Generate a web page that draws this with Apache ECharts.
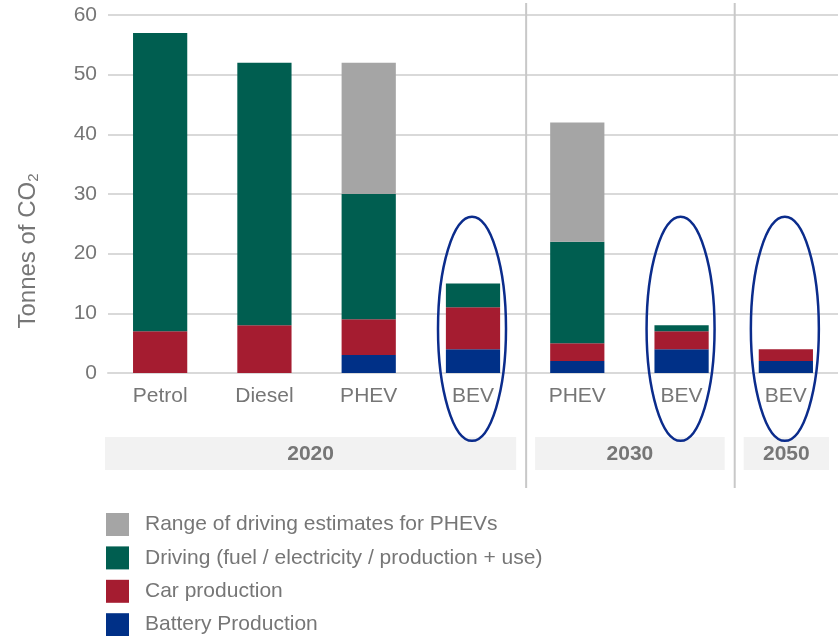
<!DOCTYPE html>
<html>
<head>
<meta charset="utf-8">
<script src="https://cdn.jsdelivr.net/npm/echarts@6/dist/echarts.min.js"></script>
<style>html,body{margin:0;padding:0;background:#fff}#c{width:838px;height:636px}</style>
</head>
<body>
<div id="c"></div>
<script>
var categories = ['Petrol', 'Diesel', 'PHEV', 'BEV', 'PHEV', 'BEV', 'BEV'];
var batteryProduction = [0, 0, 3, 4, 2, 4, 2];
var carProduction = [7, 8, 6, 7, 3, 3, 2];
var driving = [50, 44, 21, 4, 17, 1, 0];
var phevRange = [0, 0, 22, 0, 20, 0, 0];
var yTicks = [0, 10, 20, 30, 40, 50, 60];
var groupLabels = ['2020', '2030', '2050'];
var groupStart = [0, 4, 6];
var groupEnd = [3, 5, 6];
var highlighted = [3, 5, 6];
var highlightCenter = 7.4;

var FONT = '"Liberation Sans", Arial, sans-serif';
var TXT = '#767676';
var COLORS = {range: '#a5a5a5', driving: '#005e50', car: '#a51c30', battery: '#003087'};

function z2null(arr) { return arr.map(function (v) { return v === 0 ? '-' : v; }); }

var chart = echarts.init(document.getElementById('c'));
var groupData = groupLabels.map(function (l, i) { return [groupStart[i], groupEnd[i], l]; });

var option = {
  animation: false,
  textStyle: {fontFamily: FONT},
  grid: {left: 108, right: 0, top: 15, bottom: 263},
  legend: {
    orient: 'vertical', left: 106, top: 513, padding: 0, height: 200,
    itemWidth: 23, itemHeight: 23, itemGap: 10.4, icon: 'rect',
    data: ['Range of driving estimates for PHEVs', 'Driving (fuel / electricity / production + use)', 'Car production', 'Battery Production'],
    textStyle: {fontSize: 21, color: TXT, fontFamily: FONT, padding: [0, 0, 0, 11]}
  },
  xAxis: {
    type: 'category', data: categories,
    axisLine: {show: true, lineStyle: {color: '#d9d9d9', width: 2}},
    axisTick: {show: false},
    axisLabel: {fontSize: 21, color: TXT, margin: 13, fontFamily: FONT}
  },
  yAxis: {
    type: 'value', min: yTicks[0], max: yTicks[yTicks.length - 1], interval: 10,
    axisLine: {show: false}, axisTick: {show: false},
    axisLabel: {fontSize: 21, color: TXT, margin: 11, fontFamily: FONT},
    splitLine: {lineStyle: {color: '#d9d9d9', width: 2}}
  },
  graphic: [{
    type: 'text', x: 28, y: 251, rotation: Math.PI / 2,
    style: {
      text: '{a|Tonnes of CO}{b|2}', align: 'center', verticalAlign: 'middle',
      rich: {
        a: {fontSize: 24, fill: TXT, fontFamily: FONT},
        b: {fontSize: 15, fill: TXT, fontFamily: FONT, verticalAlign: 'bottom', padding: [11, 0, 0, 0]}
      }
    }
  }],
  series: [
    {name: 'Battery Production', type: 'bar', stack: 'a', barWidth: '52%', data: z2null(batteryProduction), itemStyle: {color: COLORS.battery}},
    {name: 'Car production', type: 'bar', stack: 'a', data: z2null(carProduction), itemStyle: {color: COLORS.car}},
    {name: 'Driving (fuel / electricity / production + use)', type: 'bar', stack: 'a', data: z2null(driving), itemStyle: {color: COLORS.driving}},
    {name: 'Range of driving estimates for PHEVs', type: 'bar', stack: 'a', data: z2null(phevRange), itemStyle: {color: COLORS.range}},
    {
      type: 'custom', clip: false, silent: true, z: 1,
      data: groupData,
      encode: {x: 0},
      renderItem: function (params, api) {
        var s = api.value(0), e = api.value(1);
        var band = api.size([1, 0])[0];
        var base = api.coord([0, 0])[1];
        var x0 = api.coord([s, 0])[0] - band / 2;
        var x1 = api.coord([e, 0])[0] + band / 2;
        var l = s === 0 ? x0 - 3 : x0 + 10;
        var r = x1 - 9;
        var children = [
          {type: 'rect', shape: {x: l, y: base + 64, width: r - l, height: 33}, style: {fill: '#f2f2f2'}},
          {type: 'text', style: {text: groupLabels[params.dataIndex], x: (l + r) / 2, y: base + 81, align: 'center', verticalAlign: 'middle', fontSize: 21, fontWeight: 'bold', fill: TXT, fontFamily: FONT}}
        ];
        if (s > 0) {
          children.push({type: 'line', shape: {x1: x0 + 1, y1: 3, x2: x0 + 1, y2: base + 115}, style: {stroke: '#c8c8c8', lineWidth: 2}});
        }
        return {type: 'group', children: children};
      }
    },
    {
      type: 'custom', clip: false, silent: true, z: 10,
      data: highlighted.map(function (i) { return [i, highlightCenter]; }),
      encode: {x: 0, y: 1},
      renderItem: function (params, api) {
        var p = api.coord([api.value(0), api.value(1)]);
        return {type: 'ellipse', shape: {cx: p[0] - 1, cy: p[1], rx: 34, ry: 112}, style: {fill: 'none', stroke: '#0b2c8c', lineWidth: 2.5}};
      }
    }
  ]
};
chart.setOption(option);
</script>
</body>
</html>
